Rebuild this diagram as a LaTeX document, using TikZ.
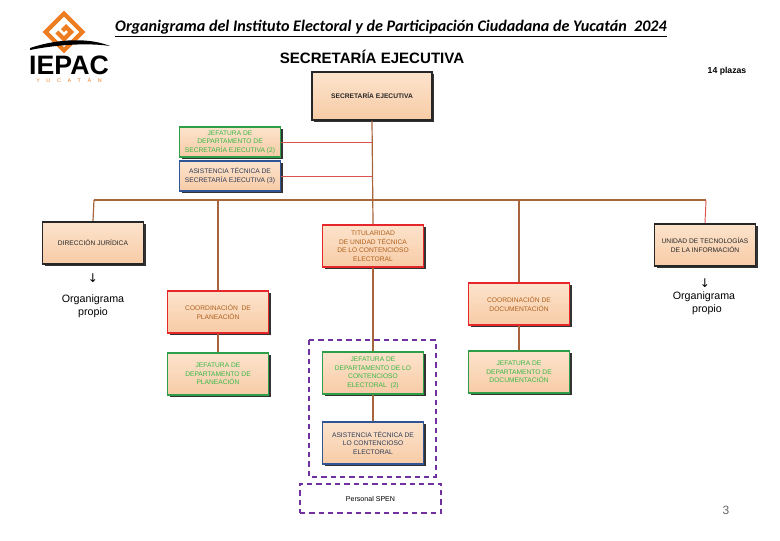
\documentclass[tikz,border=0pt]{standalone}
\usepackage{fontspec}
\setmainfont{Liberation Sans}
\newfontfamily\titulofont{Carlito}
\newfontfamily\simbolos{DejaVu Sans}
\usetikzlibrary{shadows}
\usetikzlibrary{positioning}

\definecolor{durazno}{HTML}{F7CBA6}
\definecolor{duraznoclaro}{HTML}{FCE3CC}
\definecolor{cafe}{HTML}{A8643A}
\definecolor{rojolinea}{HTML}{D9534F}
\definecolor{verdeborde}{HTML}{2E9E48}
\definecolor{verdetexto}{HTML}{36B845}
\definecolor{azulborde}{HTML}{2F5597}
\definecolor{azultexto}{HTML}{2E3B57}
\definecolor{rojoborde}{HTML}{E5262B}
\definecolor{cafetexto}{HTML}{B0601C}
\definecolor{morado}{HTML}{7030A0}
\definecolor{naranja}{HTML}{EE7D22}

\newcommand{\cajafont}{\fontsize{5}{6.4}\selectfont}

\tikzset{
  cargo/.style={draw, line width=1.3pt, top color=duraznoclaro, bottom color=durazno,
    drop shadow={shadow xshift=1.5pt, shadow yshift=-1.5pt, fill=black!80, opacity=1},
    minimum width=75.75pt, minimum height=32pt, align=center, font=\cajafont, inner sep=1pt},
  negro/.style={cargo, draw=black!85, text=black!85},
  verde/.style={cargo, draw=verdeborde, text=verdetexto},
  azul/.style={cargo, draw=azulborde, text=azultexto},
  rojo/.style={cargo, draw=rojoborde, text=cafetexto},
  linea/.style={draw=cafe, line width=0.9pt},
  lineroja/.style={draw=rojolinea, line width=0.7pt},
  marco/.style={draw=morado, line width=1.1pt, dash pattern=on 4pt off 3pt},
  propio/.style={font=\fontsize{8}{9.75}\selectfont, align=center, inner sep=0pt},
  flecha/.style={font=\simbolos\fontsize{9}{9}\selectfont, inner sep=0pt}
}

\begin{document}
\begin{tikzpicture}[x=0.75pt,y=-0.75pt]
  \useasboundingbox (0,0) rectangle (780,540);

  % logo
  \begin{scope}[shift={(64,32)},rotate=45]
    \draw[naranja, line width=3.2pt] (-13,-13) rectangle (13,13);
    \draw[naranja, line width=3.2pt] (-5,-5) -- (-5,5) -- (5,5) -- (5,-2) -- (0,-2);
  \end{scope}
  \fill[black] (30,48) .. controls (60,38) and (90,38) .. (110,46)
    .. controls (90,43) and (60,44) .. (30,50) -- cycle;
  \node[font=\fontsize{20}{20}\selectfont\bfseries, inner sep=0pt] (logo) at (69,65) {IEPAC};
  \node[font=\fontsize{4}{4}\selectfont, text=naranja, inner sep=0pt, below=2.5pt of logo] (yuc)
    {Y\hspace{5pt}U\hspace{5pt}C\hspace{5pt}A\hspace{5pt}T\hspace{5pt}Á\hspace{5pt}N};

  % titulos
  \node[font=\titulofont\fontsize{12.1}{14}\selectfont\bfseries\itshape] (titulo) at (391,29)
    {\underline{Organigrama del Instituto Electoral y de Participación Ciudadana de Yucatán\ \ 2024}};
  \node[font=\fontsize{11.3}{13}\selectfont\bfseries] (encabezado) at (372,57) {SECRETARÍA EJECUTIVA};
  \node[font=\fontsize{6.5}{8}\selectfont\bfseries] (plazas) at (727,71) {14 plazas};
  \node[font=\fontsize{9}{10}\selectfont, text=black!60] (pagina) at (726,510) {3};

  % cajas
  \node[negro, minimum width=90pt, minimum height=36pt, font=\cajafont\bfseries] (se) at (372,96) {SECRETARÍA EJECUTIVA};
  \node[verde, minimum height=22pt] (jse) at (230,142) {JEFATURA DE\\DEPARTAMENTO DE\\SECRETARÍA EJECUTIVA (2)};
  \node[azul, minimum height=22pt] (ase) at (230,176) {ASISTENCIA TÉCNICA DE\\SECRETARÍA EJECUTIVA (3)};
  \node[negro] (jur) at (93,243) {DIRECCIÓN JURÍDICA};
  \node[rojo] (tit) at (373,246) {TITULARIDAD\\DE UNIDAD TÉCNICA\\DE LO CONTENCIOSO\\ELECTORAL};
  \node[negro] (uti) at (705,245) {UNIDAD DE TECNOLOGÍAS\\DE LA INFORMACIÓN};
  \node[rojo] (plan) at (218,312) {COORDINACIÓN\ \ DE\\PLANEACIÓN};
  \node[verde] (jplan) at (218,374) {JEFATURA DE\\DEPARTAMENTO DE\\PLANEACIÓN};
  \node[rojo] (doc) at (519,304) {COORDINACIÓN DE\\DOCUMENTACIÓN};
  \node[verde] (jdoc) at (519,372) {JEFATURA DE\\DEPARTAMENTO DE\\DOCUMENTACIÓN};
  \node[verde] (jcon) at (373,373) {JEFATURA DE\\DEPARTAMENTO DE LO\\CONTENCIOSO\\ELECTORAL\ \ (2)};
  \node[azul] (acon) at (373,443) {ASISTENCIA TÉCNICA DE\\LO CONTENCIOSO\\ELECTORAL};

  % personal SPEN
  \draw[marco] (309,340) rectangle (436,477);
  \node[marco, minimum width=105.75pt, minimum height=21.75pt, font=\fontsize{5.3}{6}\selectfont] (spen) at (370.5,498.5) {Personal SPEN};

  % organigrama propio
  \node[flecha] (fj) at (93,278) {↓};
  \node[propio] (pj) at (93,306) {Organigrama\\propio};
  \node[flecha] (fu) at (705,283) {↓};
  \node[propio] (pu) at (704,303) {Organigrama\\\ \ propio};

  % conectores
  \coordinate (busL) at (94,200);
  \coordinate (busR) at (706,200);
  \draw[linea] (se.south) -- (tit.north);
  \draw[lineroja] (jse.east) -- (jse.east -| se.south);
  \draw[lineroja] (ase.east) -- (ase.east -| se.south);
  \draw[linea] (busL) -- (busR);
  \draw[linea] (busL) -- (jur.north);
  \draw[linea] (plan.north |- busL) -- (plan.north);
  \draw[linea] (doc.north |- busL) -- (doc.north);
  \draw[lineroja] (busR) -- (uti.north);
  \draw[linea] (plan) -- (jplan);
  \draw[linea] (doc) -- (jdoc);
  \draw[linea] (tit) -- (jcon);
  \draw[linea] (jcon) -- (acon);
\end{tikzpicture}
\end{document}
